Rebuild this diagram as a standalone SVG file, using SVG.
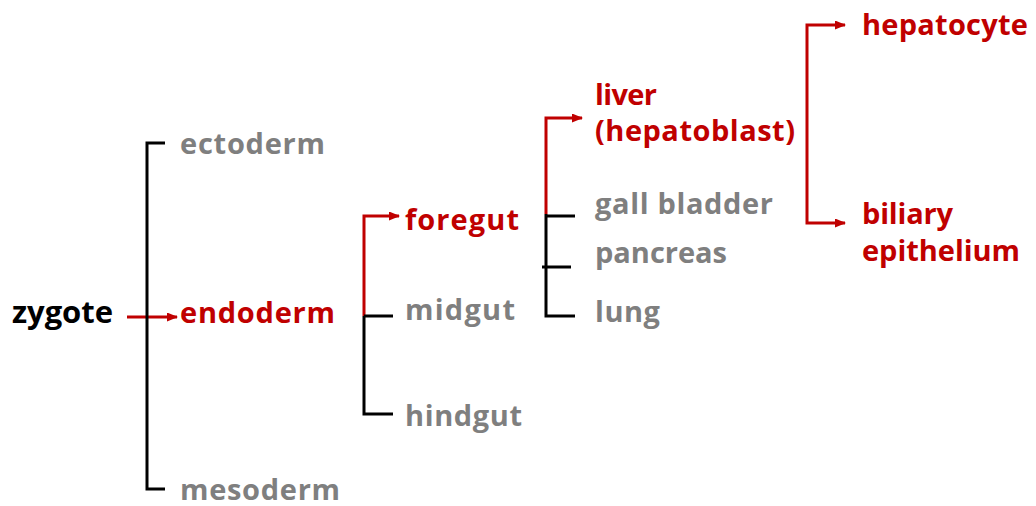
<svg xmlns="http://www.w3.org/2000/svg" width="1036" height="506" viewBox="0 0 1036 506">
<style>
text{font-family:"Open Sans","Noto Sans","Liberation Sans",sans-serif;font-weight:bold;font-size:29px}
.k{fill:#000}
.g{fill:#7f7f7f}
.r{fill:#c00000}
.lk{fill:none;stroke:#000;stroke-width:3}
.lr{fill:none;stroke:#c00000;stroke-width:3}
</style>
<defs>
<marker id="ah" markerUnits="userSpaceOnUse" markerWidth="11" markerHeight="9" refX="10" refY="4.5" orient="auto">
<path d="M0,0 L11,4.5 L0,9 z" fill="#c00000"/>
</marker>
</defs>
<rect width="1036" height="506" fill="#fff"/>
<g id="connectors">
<path class="lr" d="M127,317 H177" marker-end="url(#ah)"/>
<path class="lk" d="M165,143 H147 V489 H165"/>
<path class="lr" d="M364,316 V216 H399" marker-end="url(#ah)"/>
<path class="lk" d="M364,316 V414 H393 M364,316 H393"/>
<path class="lr" d="M546,214 V118 H582" marker-end="url(#ah)"/>
<path class="lk" d="M546,214 V316 H575 M546,216 H575 M542,267 H571"/>
<path class="lr" d="M807,124 V25 H845" marker-end="url(#ah)"/>
<path class="lr" d="M807,124 V223 H845" marker-end="url(#ah)"/>
</g>
<g id="zygote"><text class="k" x="12" y="323" style="font-size:31px" textLength="101" lengthAdjust="spacing">zygote</text></g>
<g id="ectoderm"><text class="g" x="180" y="154" textLength="145" lengthAdjust="spacing">ectoderm</text></g>
<g id="endoderm"><text class="r" x="180" y="323" textLength="155" lengthAdjust="spacing">endoderm</text></g>
<g id="mesoderm"><text class="g" x="180" y="500" textLength="160" lengthAdjust="spacing">mesoderm</text></g>
<g id="foregut"><text class="r" x="405" y="230" textLength="114" lengthAdjust="spacing">foregut</text></g>
<g id="midgut"><text class="g" x="405" y="320" textLength="110" lengthAdjust="spacing">midgut</text></g>
<g id="hindgut"><text class="g" x="405" y="426" textLength="117" lengthAdjust="spacing">hindgut</text></g>
<g id="liver"><text class="r" x="595" y="105" textLength="62" lengthAdjust="spacing">liver</text><text class="r" x="595" y="141" textLength="200" lengthAdjust="spacing">(hepatoblast)</text></g>
<g id="gall-bladder"><text class="g" x="595" y="214" textLength="178" lengthAdjust="spacing">gall bladder</text></g>
<g id="pancreas"><text class="g" x="595" y="263" textLength="132" lengthAdjust="spacing">pancreas</text></g>
<g id="lung"><text class="g" x="595" y="322" textLength="65" lengthAdjust="spacing">lung</text></g>
<g id="hepatocyte"><text class="r" x="862" y="35" textLength="166" lengthAdjust="spacing">hepatocyte</text></g>
<g id="biliary-epithelium"><text class="r" x="862" y="224" textLength="91" lengthAdjust="spacing">biliary</text><text class="r" x="862" y="261" textLength="158" lengthAdjust="spacing">epithelium</text></g>
</svg>
